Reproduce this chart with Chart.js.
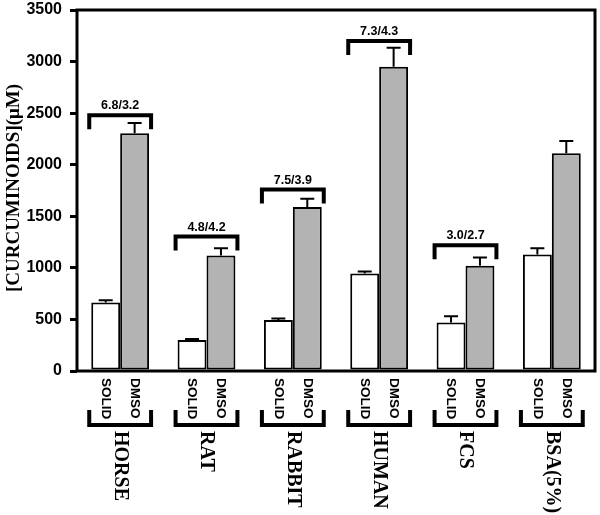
<!DOCTYPE html>
<html>
<head>
<meta charset="utf-8">
<script src="https://cdn.jsdelivr.net/npm/chart.js@4/dist/chart.umd.min.js"></script>
<style>
  html, body { margin: 0; padding: 0; background: #fff; }
  #wrap { width: 600px; height: 515px; }
</style>
</head>
<body>
<div id="wrap"><canvas id="mycanvas"></canvas></div>
<script>
// values
var groups = ["HORSE", "RAT", "RABBIT", "HUMAN", "FCS", "BSA(5%)"];
var solid = [665, 300, 495, 945, 470, 1130];
var solidHi = [685, 310, 508, 965, 530, 1190];
var dmso = [2305, 1120, 1590, 2950, 1020, 2110];
var dmsoHi = [2405, 1190, 1670, 3135, 1100, 2230];
var ratioText = ["6.8/3.2", "4.8/4.2", "7.5/3.9", "7.3/4.3", "3.0/2.7", ""];
var ratioLevel = [2480, 1305, 1760, 3200, 1220, null];
var yTicks = [0, 500, 1000, 1500, 2000, 2500, 3000, 3500];

var extras = {
	id: "extras",
	afterDatasetsDraw: function(chart) {
		var ctx = chart.ctx;
		var y = chart.scales.y;
		var area = chart.chartArea;
		var m0 = chart.getDatasetMeta(0);
		var m1 = chart.getDatasetMeta(1);
		ctx.save();
		ctx.strokeStyle = "#000";
		ctx.fillStyle = "#000";

		// error whiskers
		ctx.lineWidth = 2;
		[[m0, solidHi], [m1, dmsoHi]].forEach(function(pair) {
			pair[0].data.forEach(function(el, i) {
				var yt = y.getPixelForValue(pair[1][i]);
				ctx.beginPath();
				ctx.moveTo(el.x, el.y);
				ctx.lineTo(el.x, yt);
				ctx.moveTo(el.x - 7, yt);
				ctx.lineTo(el.x + 7, yt);
				ctx.stroke();
			});
		});

		// ratio brackets above the bars
		ctx.lineWidth = 4;
		ctx.font = "bold 12.5px Arial, 'Liberation Sans', sans-serif";
		ctx.textAlign = "center";
		ctx.textBaseline = "bottom";
		for (var i = 0; i < groups.length; i++) {
			if (ratioLevel[i] === null) continue;
			var a = m0.data[i], b = m1.data[i];
			var x1 = a.x - a.width / 2 - 2, x2 = b.x + b.width / 2 + 2;
			var yb = y.getPixelForValue(ratioLevel[i]);
			ctx.beginPath();
			ctx.moveTo(x1, yb + 14);
			ctx.lineTo(x1, yb);
			ctx.lineTo(x2, yb);
			ctx.lineTo(x2, yb + 14);
			ctx.stroke();
			ctx.fillText(ratioText[i], (x1 + x2) / 2, yb - 3);
		}

		// frame
		ctx.lineWidth = 3;
		ctx.strokeRect(area.left, area.top, area.right - area.left, area.bottom - area.top);

		// labels below the axis
		for (var j = 0; j < groups.length; j++) {
			var s = m0.data[j], d = m1.data[j];
			ctx.font = "bold 13.5px Arial, 'Liberation Sans', sans-serif";
			ctx.textAlign = "left";
			ctx.textBaseline = "middle";
			[[s, "SOLID"], [d, "DMSO"]].forEach(function(p) {
				ctx.save();
				ctx.translate(p[0].x, area.bottom + 7);
				ctx.rotate(Math.PI / 2);
				ctx.fillText(p[1], 0, 0);
				ctx.restore();
			});
			var gx1 = s.x - s.width / 2 - 2, gx2 = d.x + d.width / 2 + 2;
			ctx.lineWidth = 4;
			ctx.beginPath();
			ctx.moveTo(gx1, 410);
			ctx.lineTo(gx1, 425);
			ctx.lineTo(gx2, 425);
			ctx.lineTo(gx2, 410);
			ctx.stroke();
			ctx.save();
			ctx.translate((s.x + d.x) / 2, 431);
			ctx.rotate(Math.PI / 2);
			ctx.font = "bold 20px 'Times New Roman', 'Liberation Serif', serif";
			ctx.fillText(groups[j], 0, 0);
			ctx.restore();
		}

		// y axis title
		ctx.save();
		ctx.translate(14, 188);
		ctx.rotate(-Math.PI / 2);
		ctx.textAlign = "center";
		ctx.textBaseline = "middle";
		ctx.font = "bold 19px 'Times New Roman', 'Liberation Serif', serif";
		ctx.fillText("[CURCUMINOIDS](\u03BCM)", 0, 0);
		ctx.restore();
		ctx.restore();
	}
};

var chartdata = {
	labels: groups,
	datasets: [
		{
			label: "SOLID",
			backgroundColor: "#ffffff",
			borderColor: "#000000",
			borderWidth: 2,
			borderSkipped: false,
			data: solid
		},
		{
			label: "DMSO",
			backgroundColor: "#b3b3b3",
			borderColor: "#000000",
			borderWidth: 2,
			borderSkipped: false,
			data: dmso
		}
	]
};

var ctx = document.getElementById("mycanvas");

var BarGraph = new Chart(ctx, {
	type: "bar",
	data: chartdata,
	plugins: [extras],
	options: {
		responsive: true,
		maintainAspectRatio: false,
		animation: false,
		layout: { padding: { left: 0, right: 5, top: 10, bottom: 0 } },
		plugins: { legend: { display: false }, tooltip: { enabled: false } },
		datasets: { bar: { categoryPercentage: 0.67, barPercentage: 1.0 } },
		scales: {
			x: {
				grid: { display: false },
				border: { display: false },
				ticks: { display: false },
				afterFit: function(scale) { scale.height = 144; }
			},
			y: {
				min: 0,
				max: 3500,
				afterBuildTicks: function(scale) {
					scale.ticks = yTicks.map(function(v) { return { value: v }; });
				},
				grid: { drawOnChartArea: false, drawTicks: true, tickLength: 7, lineWidth: 3, color: "#000" },
				border: { display: false },
				ticks: {
					color: "#000",
					padding: 8,
					font: { family: "Arial, 'Liberation Sans', sans-serif", size: 16, weight: "bold" },
					callback: function(v) { return String(v); }
				},
				afterFit: function(scale) {
					scale.width = 77;
					scale.paddingTop = 0;
					scale.paddingBottom = 0;
				}
			}
		}
	}
});
</script>
</body>
</html>
